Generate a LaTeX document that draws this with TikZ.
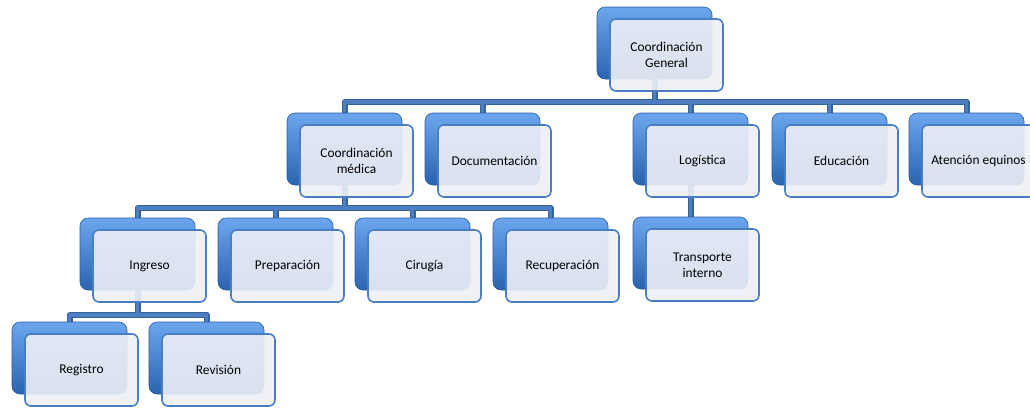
\documentclass[tikz,border=0pt]{standalone}
\usepackage{fontspec}
\setmainfont{Carlito}
\definecolor{lineDark}{HTML}{35639A}
\definecolor{lineLight}{HTML}{4D7FC0}
\definecolor{boxTop}{HTML}{6BA6EE}
\definecolor{boxMid}{HTML}{3B7CD2}
\definecolor{boxBot}{HTML}{2A63B0}
\definecolor{boxEdge}{HTML}{2A5C9E}
\definecolor{frontFill}{HTML}{EDF0F6}
\definecolor{frontEdge}{HTML}{4A7EC2}
\tikzset{
  backbox/.style={rectangle, rounded corners=8pt, minimum width=115pt, minimum height=72pt,
    top color=boxTop, middle color=boxMid, bottom color=boxBot, draw=boxEdge, line width=0.6pt, inner sep=0pt},
  frontbox/.style={rectangle, rounded corners=6pt, minimum width=113pt, minimum height=72pt,
    fill=frontFill, fill opacity=0.9, text opacity=1, draw=frontEdge, line width=1.6pt,
    align=center, inner sep=2pt, font=\fontsize{13.4}{16}\selectfont, text=black},
  connOuter/.style={draw=lineDark, line width=6pt},
  connInner/.style={draw=lineLight, line width=3.2pt},
}
\newcommand{\orgunit}[4]{%
  \node[backbox] (#1-b) at (#2+57.5,#3+36) {};
  \node[frontbox] (#1) at (#2+13+56.5,#3+12+36) {#4};
}
\begin{document}
\begin{tikzpicture}[x=1pt,y=-1pt]
\useasboundingbox (0,0) rectangle (1030,408);
\foreach \nm/\px/\py in {gen/597/7, cm/287/113, doc/425/113, log/633/113, edu/772/113, ate/909/113,
  ing/80/218, pre/218/218, cir/355/218, rec/493/218, tra/633/217, reg/12/322, rev/149/322}
  \coordinate (\nm-c) at (\px+57.5,\py+36);
\coordinate (bus1) at (0,102);
\coordinate (bus2) at (0,208);
\coordinate (bus3) at (0,315);
\foreach \sty in {connOuter,connInner}{
  \path[\sty] (gen-c) -- (gen-c |- bus1);
  \path[\sty, line join=round] (cm-c) -- (cm-c |- bus1) -- (ate-c |- bus1) -- (ate-c);
  \path[\sty] (doc-c |- bus1) -- (doc-c);
  \path[\sty] (log-c |- bus1) -- (log-c);
  \path[\sty] (edu-c |- bus1) -- (edu-c);
  \path[\sty] (cm-c) -- (cm-c |- bus2);
  \path[\sty, line join=round] (ing-c) -- (ing-c |- bus2) -- (rec-c |- bus2) -- (rec-c);
  \path[\sty] (pre-c |- bus2) -- (pre-c);
  \path[\sty] (cir-c |- bus2) -- (cir-c);
  \path[\sty] (log-c) -- (tra-c);
  \path[\sty] (ing-c) -- (ing-c |- bus3);
  \path[\sty, line join=round] (reg-c) -- (reg-c |- bus3) -- (rev-c |- bus3) -- (rev-c);
}
\orgunit{gen}{597}{7}{Coordinación\\General}
\orgunit{cm}{287}{113}{Coordinación\\médica}
\orgunit{doc}{425}{113}{Documentación}
\orgunit{log}{633}{113}{Logística}
\orgunit{edu}{772}{113}{Educación}
\orgunit{ate}{909}{113}{Atención equinos}
\orgunit{ing}{80}{218}{Ingreso}
\orgunit{pre}{218}{218}{Preparación}
\orgunit{cir}{355}{218}{Cirugía}
\orgunit{rec}{493}{218}{Recuperación}
\orgunit{tra}{633}{217}{Transporte\\interno}
\orgunit{reg}{12}{322}{Registro}
\orgunit{rev}{149}{322}{Revisión}
\end{tikzpicture}
\end{document}
